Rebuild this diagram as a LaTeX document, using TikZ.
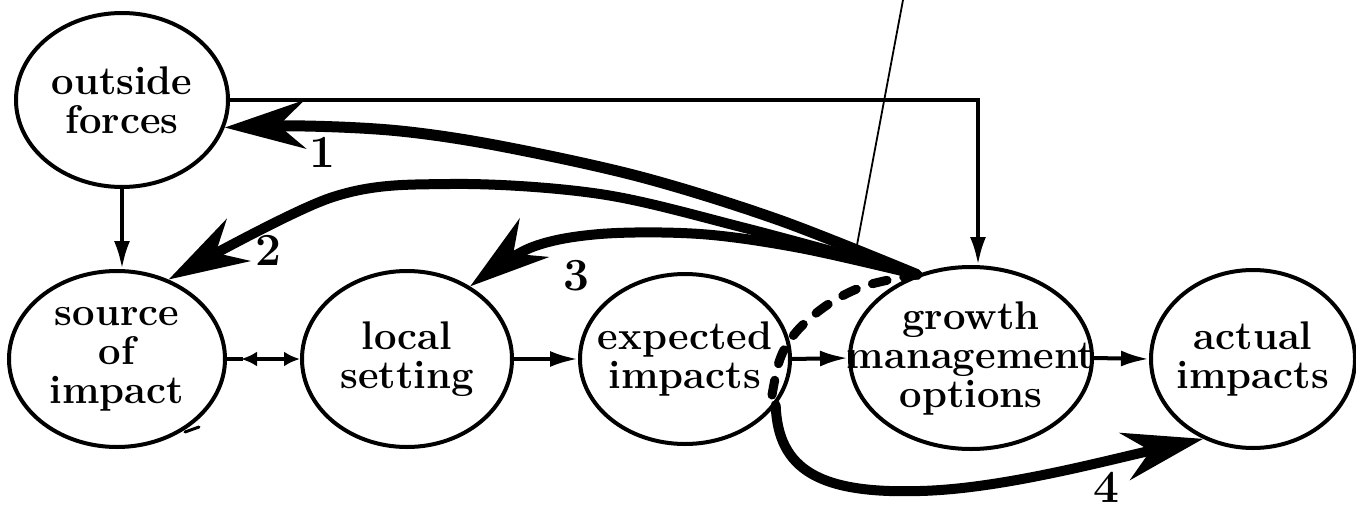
\documentclass[tikz,border=0pt]{standalone}
\usetikzlibrary{arrows.meta,shapes.geometric}
\begin{document}
\begin{tikzpicture}[x=1pt,y=-1pt,
  bubble/.style 2 args={ellipse,draw,line width=4pt,inner sep=0pt,
    minimum width=#1,minimum height=#2},
  caption/.style={font=\fontsize{40}{39}\selectfont\bfseries,align=center,inner sep=0pt},
  num/.style={font=\fontsize{46}{46}\selectfont\bfseries,inner sep=0pt},
  link/.style={line width=4pt},
  linkarrow/.style={link,-{Latex[length=28pt,width=16pt]}},
  heavy/.style={line width=10pt,line cap=round,
    -{Stealth[length=80pt,width=48pt,inset=26pt]}},
  feedback/.style={line width=9pt,line cap=round,dash pattern=on 15pt off 17pt},
]
% canvas
\fill[white] (0,0) rectangle (1356,511);
\useasboundingbox (0,0) rectangle (1356,511);

% ellipses
\node[bubble={212pt}{174pt}] (of)  at (122,100) {};
\node[bubble={216pt}{176pt}] (src) at (117,359) {};
\node[bubble={210pt}{176pt}] (loc) at (407,359) {};
\node[bubble={210pt}{170pt}] (exp) at (685,359) {};
\node[bubble={242pt}{182pt}] (gro) at (971,358) {};
\node[bubble={204pt}{178pt}] (act) at (1253,359) {};

% captions
\node[caption] (of-t)  at (of)  {outside\\forces};
\node[caption] (src-t) at (src) {source\\of\\impact};
\node[caption] (loc-t) at (loc) {local\\setting};
\node[caption] (exp-t) at (exp) {expected\\impacts};
\node[caption] (gro-t) at (gro) {growth\\management\\options};
\node[caption] (act-t) at (act) {actual\\impacts};

% thin connectors
\draw[linkarrow] (of.east) -| ([xshift=7pt]gro.north);
\draw[linkarrow] (of.south) -- (of.south |- src.north);
\draw[link] (src.east) -- ++(16,0);
\draw[link,{Latex[length=16pt,width=15pt]}-{Latex[length=16pt,width=15pt]}]
  ([xshift=14pt]src.east) -- (loc.west);
\draw[linkarrow] (loc.east) -- (exp.west);
\draw[linkarrow] (exp.east) -- (gro.west);
\draw[linkarrow] (gro.east) -- (act.west);

% feedback paths from the options
\draw[heavy,line width=11pt] plot[smooth,tension=0.55] coordinates
  {(gro.123) (779,220) (641,177) (500,146) (400,131) (305,126) (of.-15)};
\draw[heavy] plot[smooth,tension=0.55] coordinates
  {(gro.123) (745,228) (600,194) (450,184) (330,198) (src.57)};
\draw[heavy] plot[smooth,tension=0.55] coordinates
  {(gro.123) (800,248) (700,234) (600,234) (530,248) (loc.49)};
\draw[heavy] (exp.-27) .. controls (778,470) and (820,494) .. (920,491)
  .. controls (1000,489) and (1100,462) .. (act.238);
\draw[feedback] plot[smooth,tension=0.6] coordinates
  {(772,395) (779,362) (790,340) (808,320) (835,300) (868,285) (gro.123)};

% path numbers
\node[num] (n1) at (322,152) {1};
\node[num] (n2) at (268,250) {2};
\node[num] (n3) at (576,276) {3};
\node[num] (n4) at (1106,487) {4};

% pointer line and stray tick
\coordinate (ptr-top) at (903,0);
\coordinate (ptr-end) at (857,245);
\draw[line width=1.8pt] (ptr-top) -- (ptr-end);
\draw[line width=3pt,line cap=round] (185,432) -- (199,427);
\end{tikzpicture}
\end{document}
